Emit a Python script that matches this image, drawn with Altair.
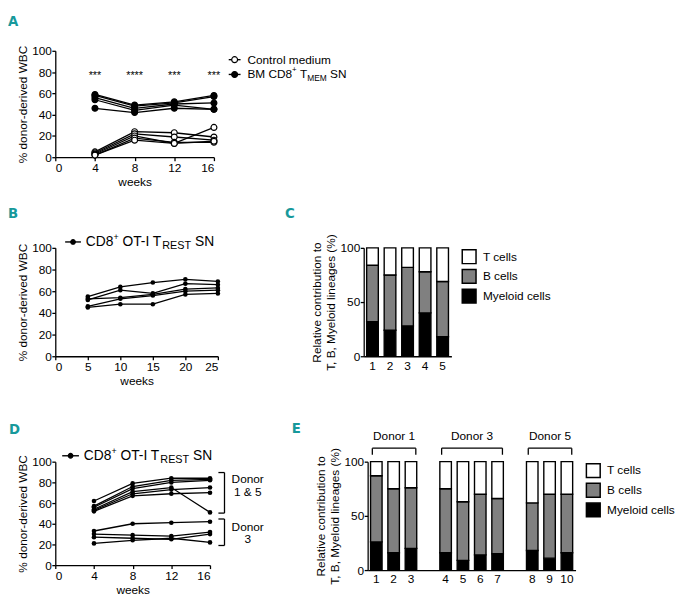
import altair as alt
import pandas as pd

FONT = "Liberation Sans"
LETTER_FONT = "DejaVu Sans Condensed, Liberation Sans, sans-serif"
TEAL = "#17999b"
GREY = "#808080"

# ---------------- data ----------------
# Panel A
weeks_a = [4, 8, 12, 16]
series_a = ["Control medium", "BM CD8+ TMEM SN"]
control_a = [[5, 24, 23, 19], [4, 22, 19, 16], [3, 20, 13, 28], [2, 18, 14, 14], [2, 16, 13, 15]]
bm_sn_a = [[59, 49, 52, 58], [58, 48, 51, 57], [56, 46, 50, 51], [54, 44, 49, 45], [46, 42, 46, 45]]
stars_a = ["***", "****", "***", "***"]
stars_level_a = 80

# Panel B
weeks_b = [5, 10, 15, 20, 25]
trest_b = [[55, 64, 68, 71, 69], [52, 61, 58, 67, 66], [53, 54, 57, 62, 63],
           [46, 53, 56, 60, 61], [45, 48, 48, 57, 58]]

# Panel C
mice_c = ["1", "2", "3", "4", "5"]
myeloid_c = [32, 24, 28, 40, 18]
bcells_c = [52, 51, 54, 38, 51]
tcells_c = [16, 25, 18, 22, 31]

# Panel D
weeks_d = [4, 8, 12, 16]
donor15_d = [[62, 79, 84, 84], [57, 76, 82, 83], [56, 74, 80, 82],
             [54, 71, 75, 51], [53, 69, 73, 75], [52, 67, 69, 70]]
donor3_d = [[33, 40, 41, 42], [30, 29, 28, 32], [27, 26, 25, 30], [21, 24, 26, 22]]
bracket_groups_d = ["1 & 5", "3"]
bracket_low_d = [50.3, 19]
bracket_high_d = [89.5, 44.6]

# Panel E
slots_e = ["1", "2", "3", "gap1", "4", "5", "6", "7", "gap2", "8", "9", "10"]
mice_e = ["1", "2", "3", "4", "5", "6", "7", "8", "9", "10"]
myeloid_e = [26, 16, 20, 16, 9, 14, 15, 18, 11, 16]
bcells_e = [61, 59, 56, 59, 54, 56, 51, 44, 59, 54]
tcells_e = [13, 25, 24, 25, 37, 30, 34, 38, 30, 30]
donors_e = ["Donor 1", "Donor 3", "Donor 5"]
donor_mice_e = [["1", "2", "3"], ["4", "5", "6", "7"], ["8", "9", "10"]]

cell_types = ["T cells", "B cells", "Myeloid cells"]
cell_colors = ["white", GREY, "black"]

ONE = pd.DataFrame({"k": [0]})

# Arial / Liberation Sans advance widths (per 1000 em)
AW = {" ": 278, "B": 667, "M": 833, "C": 722, "D": 722, "8": 556, "+": 584, "T": 611,
      "E": 667, "S": 667, "N": 722, "O": 778, "-": 333, "I": 278, "R": 722}


def tw(s, size):
    return sum(AW.get(ch, 556) for ch in s) * size / 1000.0


def rich_text(segments, x0, y0):
    layers = []
    x = x0
    for s, size, dy in segments:
        lead = len(s) - len(s.lstrip(" "))
        x += tw(" " * lead, size)
        body = s.strip(" ")
        layers.append(
            alt.Chart(ONE).mark_text(text=body, font=FONT, fontSize=size, dy=dy, align="left",
                                     baseline="middle", color="black")
            .encode(x=alt.value(x), y=alt.value(y0)))
        x += tw(body, size)
    return layers


def legend_line(x1, x2, y, fill, size):
    rule = alt.Chart(ONE).mark_rule(color="black", strokeWidth=1.4).encode(
        x=alt.value(x1), x2=alt.value(x2), y=alt.value(y))
    dot = alt.Chart(ONE).mark_circle(size=size, fill=fill, stroke="black", strokeWidth=1.2, opacity=1).encode(
        x=alt.value((x1 + x2) / 2), y=alt.value(y))
    return [rule, dot]


def letter(ch, x, y):
    return alt.Chart(ONE).mark_text(text=ch, font=LETTER_FONT, fontSize=15, fontWeight="bold", color=TEAL,
                                    align="left", baseline="alphabetic").encode(x=alt.value(x), y=alt.value(y))


def long_lines(groups_names, groups, weeks):
    rows = []
    for name, group in zip(groups_names, groups):
        for i, ys in enumerate(group):
            for w, v in zip(weeks, ys):
                rows.append({"series": name, "mouse": f"{name}-{i}", "week": w, "pct": v})
    return pd.DataFrame(rows)


Y_TITLE = "% donor-derived WBC"

# ---------------- Panel A ----------------
df_a = long_lines(series_a, [control_a, bm_sn_a], weeks_a)
df_stars = pd.DataFrame({"week": weeks_a, "pct": [stars_level_a] * len(weeks_a), "stars": stars_a})
xA = alt.X("week:Q", scale=alt.Scale(domain=[0, 16], nice=False),
           axis=alt.Axis(values=[0, 4, 8, 12, 16], title="weeks"))
yA = alt.Y("pct:Q", scale=alt.Scale(domain=[0, 100], nice=False),
           axis=alt.Axis(values=[0, 20, 40, 60, 80, 100], title=Y_TITLE))
a_lines = alt.Chart(df_a).mark_line(color="black", strokeWidth=1.3).encode(x=xA, y=yA, detail="mouse:N")
a_open = alt.Chart(df_a).transform_filter(alt.datum.series == series_a[0]).mark_circle(
    size=36, fill="white", stroke="black", strokeWidth=1.2, opacity=1).encode(x=xA, y=yA)
a_filled = alt.Chart(df_a).transform_filter(alt.datum.series == series_a[1]).mark_circle(
    size=36, fill="black", stroke="black", strokeWidth=1.2, opacity=1).encode(x=xA, y=yA)
a_stars = alt.Chart(df_stars).mark_text(font=FONT, fontSize=11, dy=4, color="black").encode(
    x=xA, y=yA, text="stars:N")
a_leg = (legend_line(176, 188, 9, "white", 36)
         + rich_text([("Control medium", 12, 0)], 195, 9)
         + legend_line(176, 188, 24, "black", 36)
         + rich_text([("BM CD8", 12, 0), ("+", 8, -4), (" T", 12, 0), ("MEM", 8.5, 3.5), (" SN", 12, 0)], 195, 24))
panel_a = alt.layer(a_lines, a_open, a_filled, a_stars, *a_leg, letter("A", -48, -25)).properties(
    width=161, height=108)

# ---------------- Panel B ----------------
df_b = long_lines(["trest"], [trest_b], weeks_b)
xB = alt.X("week:Q", scale=alt.Scale(domain=[0, 25], nice=False),
           axis=alt.Axis(values=[0, 5, 10, 15, 20, 25], title="weeks"))
yB = alt.Y("pct:Q", scale=alt.Scale(domain=[0, 100], nice=False),
           axis=alt.Axis(values=[0, 20, 40, 60, 80, 100], title=Y_TITLE))
b_lines = alt.Chart(df_b).mark_line(color="black", strokeWidth=1.3).encode(x=xB, y=yB, detail="mouse:N")
b_pts = alt.Chart(df_b).mark_circle(size=22, color="black", opacity=1).encode(x=xB, y=yB)
trest_segments = [("CD8", 14, 0), ("+", 9, -5), (" OT-I T", 14, 0), ("REST", 11, 4), (" SN", 14, 0)]
b_leg = legend_line(10, 26, -6, "black", 22) + rich_text(trest_segments, 31, -6)
panel_b = alt.layer(b_lines, b_pts, *b_leg, letter("B", -48, -30)).properties(width=165, height=110)


# ---------------- bar panels ----------------
def bar_long(mice, myeloid, bcells, tcells):
    rows = []
    for m, my, b, t in zip(mice, myeloid, bcells, tcells):
        for ordv, (cell, v) in enumerate([("Myeloid cells", my), ("B cells", b), ("T cells", t)]):
            rows.append({"mouse": m, "cell": cell, "value": v, "ord": ordv})
    return pd.DataFrame(rows)


BAR_YTITLE = ["Relative contribution to", "T, B, Myeloid lineages (%)"]
cell_legend = alt.Legend(title=None, orient="right", offset=9, symbolType="square", symbolSize=196,
                         symbolStrokeColor="black", symbolStrokeWidth=1.5, labelFont=FONT, labelFontSize=12,
                         labelColor="black", labelOffset=6, rowPadding=0, padding=1)


def bar_y(stack):
    kw = dict(scale=alt.Scale(domain=[0, 100], nice=False),
              axis=alt.Axis(values=[0, 50, 100], title=BAR_YTITLE, titleLineHeight=14, titlePadding=3))
    if stack:
        return alt.Y("value:Q", stack="zero", **kw)
    return alt.Y("value:Q", **kw)


def bars(df, domain, label_values):
    return alt.Chart(df).mark_bar(stroke="black", strokeWidth=1.4).encode(
        x=alt.X("mouse:N", sort=domain,
                scale=alt.Scale(domain=domain, paddingInner=0.335, paddingOuter=0.1675),
                axis=alt.Axis(values=label_values, title=None, ticks=False, labelAngle=0, labelPadding=4)),
        y=bar_y(True),
        fill=alt.Fill("cell:N", scale=alt.Scale(domain=cell_types, range=cell_colors), legend=cell_legend),
        order=alt.Order("ord:Q", sort="ascending"))


# Panel C
df_c = bar_long(mice_c, myeloid_c, bcells_c, tcells_c)
panel_c = alt.layer(bars(df_c, mice_c, mice_c), letter("C", -80, -30)).properties(width=89, height=110)

# Panel E
df_e = bar_long(mice_e, myeloid_e, bcells_e, tcells_e)
br_rows, tx_rows = [], []
for donor, ms in zip(donors_e, donor_mice_e):
    left = slots_e.index(ms[0]) + 0.27
    right = slots_e.index(ms[-1]) + 0.78
    br_rows.append({"bx": left, "bx2": right, "value": 112.5, "value2": 112.5})
    br_rows.append({"bx": left, "bx2": left, "value": 106.4, "value2": 112.5})
    br_rows.append({"bx": right, "bx2": right, "value": 106.4, "value2": 112.5})
    tx_rows.append({"bx": (left + right) / 2, "value": 123.7, "donor": donor})
df_br = pd.DataFrame(br_rows)
df_tx = pd.DataFrame(tx_rows)
xBr = alt.X("bx:Q", scale=alt.Scale(domain=[0, len(slots_e)], nice=False, zero=False), axis=None)
e_br = alt.Chart(df_br).mark_rule(color="black", strokeWidth=1.3).encode(
    x=xBr, x2="bx2:Q", y=bar_y(False), y2="value2:Q")
e_tx = alt.Chart(df_tx).mark_text(font=FONT, fontSize=12, color="black").encode(
    x=xBr, y=bar_y(False), text="donor:N")
panel_e = alt.layer(bars(df_e, slots_e, mice_e), e_br, e_tx, letter("E", -77, -29)).resolve_scale(
    x="independent").properties(width=211, height=110)

# ---------------- Panel D ----------------
df_d = long_lines(["d15", "d3"], [donor15_d, donor3_d], weeks_d)
xD = alt.X("week:Q", scale=alt.Scale(domain=[0, 16], nice=False),
           axis=alt.Axis(values=[0, 4, 8, 12, 16], title="weeks"))
yD = alt.Y("pct:Q", scale=alt.Scale(domain=[0, 100], nice=False),
           axis=alt.Axis(values=[0, 20, 40, 60, 80, 100], title=Y_TITLE))
d_lines = alt.Chart(df_d).mark_line(color="black", strokeWidth=1.3).encode(x=xD, y=yD, detail="mouse:N")
d_pts = alt.Chart(df_d).mark_circle(size=22, color="black", opacity=1).encode(x=xD, y=yD)
dbr = []
for lo, hi in zip(bracket_low_d, bracket_high_d):
    dbr.append({"week": 17.5, "week2": 17.5, "pct": lo, "pct2": hi})
    dbr.append({"week": 16.87, "week2": 17.5, "pct": hi, "pct2": hi})
    dbr.append({"week": 16.87, "week2": 17.5, "pct": lo, "pct2": lo})
df_dbr = pd.DataFrame(dbr)
df_dtx = pd.DataFrame({"week": [19.9] * 4, "pct": [82.9, 70.5, 37.1, 24.8],
                       "txt": ["Donor", bracket_groups_d[0], "Donor", bracket_groups_d[1]]})
d_br = alt.Chart(df_dbr).mark_rule(color="black", strokeWidth=1.3).encode(
    x=xD, x2="week2:Q", y=yD, y2="pct2:Q")
d_tx = alt.Chart(df_dtx).mark_text(font=FONT, fontSize=12, color="black").encode(x=xD, y=yD, text="txt:N")
d_leg = legend_line(7, 24, -6, "black", 22) + rich_text(trest_segments, 29, -6)
panel_d = alt.layer(d_lines, d_pts, d_br, d_tx, *d_leg, letter("D", -47, -28)).properties(width=157, height=105)

# ---------------- layout ----------------
row1 = alt.hconcat(panel_b, panel_c, spacing=65).resolve_scale(fill="independent").resolve_legend(
    fill="independent")
row2 = alt.hconcat(panel_d, panel_e, spacing=28).resolve_scale(fill="independent").resolve_legend(
    fill="independent")
lower = alt.vconcat(row1, row2, spacing=35).resolve_scale(fill="independent").resolve_legend(fill="independent")

chart = (
    alt.vconcat(panel_a, lower, spacing=19)
    .resolve_scale(fill="independent").resolve_legend(fill="independent")
    .properties(padding={"left": 0, "top": 2, "right": 4, "bottom": 4}, background="white")
    .configure_view(strokeWidth=0)
    .configure_axis(domainColor="black", domainWidth=1.3, tickColor="black", tickWidth=1.3, tickSize=3.5,
                    labelColor="black", labelFont=FONT, labelFontSize=12, titleFont=FONT, titleFontSize=12,
                    titleFontWeight="normal", titleColor="black", grid=False)
    .configure_axisY(labelPadding=0.5, titlePadding=2)
    .configure_axisX(labelPadding=2, titlePadding=3)
)

chart.save("out.html", embed_options={"renderer": "svg", "actions": False})
